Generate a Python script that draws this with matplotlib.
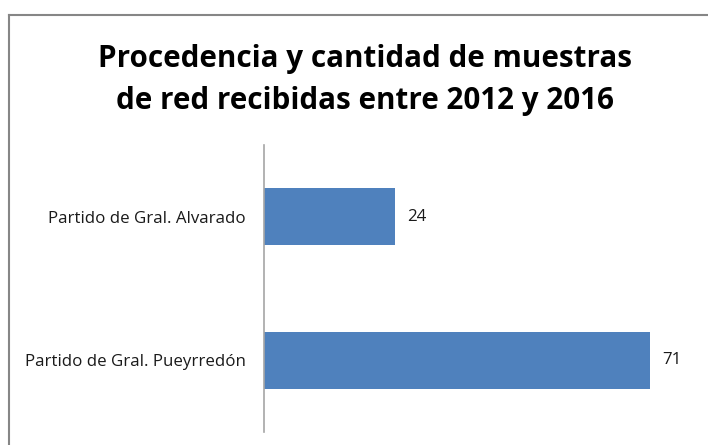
import matplotlib
matplotlib.use("Agg")
import matplotlib.pyplot as plt
from matplotlib.lines import Line2D

categories = ["Partido de Gral. Pueyrredón", "Partido de Gral. Alvarado"]
values = [71, 24]
title = "Procedencia y cantidad de muestras\nde red recibidas entre 2012 y 2016"

plt.rcParams['font.family'] = ['Open Sans', 'DejaVu Sans']

fig = plt.figure(figsize=(7.08, 4.45), dpi=100)
W, H = 708, 445
ax = fig.add_axes([264 / W, 1 - 432 / H, 435 / W, (432 - 145) / H])

pos = list(range(len(categories)))
bars = ax.barh(pos, values, height=0.4, color="#4F81BD")
ax.set_ylim(-0.5, len(categories) - 0.5)
ax.set_xlim(0, 80)
ax.set_yticks(pos)
ax.set_yticklabels(categories, fontsize=12.2, color="#1a1a1a")
ax.tick_params(axis='y', length=0, pad=13)
ax.set_xticks([])
for s in ["top", "right", "bottom"]:
    ax.spines[s].set_visible(False)
ax.spines["left"].set_color("#a6a6a6")
ax.spines["left"].set_linewidth(1.2)

for b, v in zip(bars, values):
    ax.annotate(str(v), (b.get_width(), b.get_y() + b.get_height() / 2),
                xytext=(9, 0), textcoords="offset points", va="center", ha="left",
                fontsize=12.2, color="#1a1a1a")

fig.text(365 / W, 1 - 80 / H, title, ha="center", va="center", fontsize=21.3,
         fontweight="bold", linespacing=1.55, color="black")

# chart border (top and left visible)
fig.add_artist(Line2D([9 / W, 1.0], [1 - 15 / H, 1 - 15 / H], transform=fig.transFigure,
                      color="#868686", lw=1.5))
fig.add_artist(Line2D([9 / W, 9 / W], [1 - 15 / H, 0], transform=fig.transFigure,
                      color="#868686", lw=1.5))

fig.savefig("out.png", dpi=100)
